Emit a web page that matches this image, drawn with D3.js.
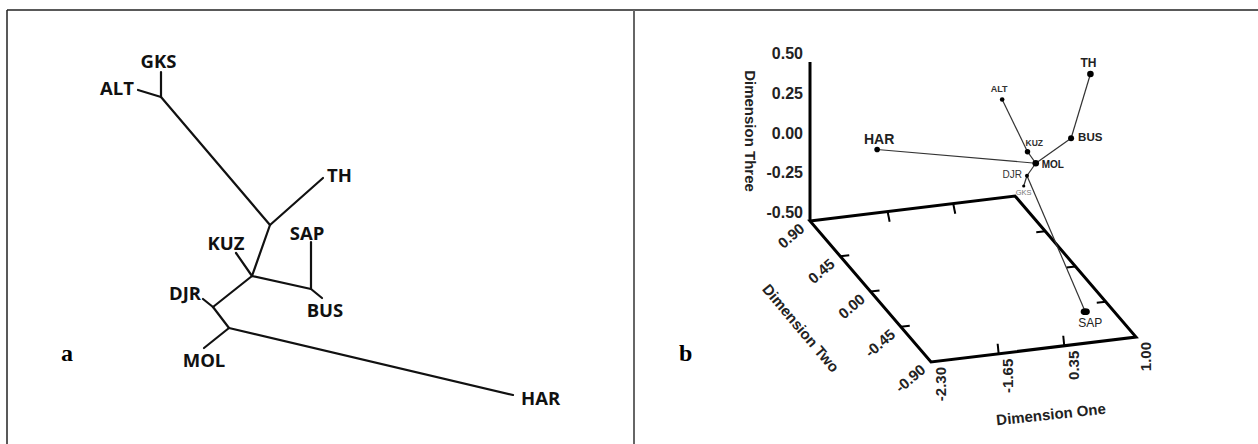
<!DOCTYPE html>
<html>
<head>
<meta charset="utf-8">
<script src="https://cdn.jsdelivr.net/npm/d3@7"></script>
<style>
body { margin: 0; background: #fff; }
</style>
</head>
<body>
<div id="chart"></div>
<script>
// ---- panel a : unrooted tree, node positions in tree units ----
let treeNodes = [
  {id: "GKS", x: 12.2, y: 4.4},
  {id: "ALT", x: 7.6,  y: 8.0},
  {id: "n1",  x: 12.2, y: 9.4},
  {id: "TH",  x: 44.6, y: 25.6},
  {id: "n2",  x: 34.0, y: 35.0},
  {id: "KUZ", x: 27.2, y: 40.6},
  {id: "n3",  x: 30.4, y: 45.2},
  {id: "SAP", x: 42.2, y: 38.4},
  {id: "n4",  x: 42.2, y: 47.8},
  {id: "BUS", x: 44.4, y: 49.6},
  {id: "DJR", x: 20.6, y: 49.8},
  {id: "n5",  x: 22.6, y: 51.4},
  {id: "n6",  x: 25.8, y: 55.6},
  {id: "MOL", x: 20.8, y: 59.6},
  {id: "HAR", x: 82.6, y: 69.0}
];
let treeEdges = [
  ["GKS","n1"], ["ALT","n1"], ["n1","n2"], ["TH","n2"], ["n2","n3"],
  ["KUZ","n3"], ["n3","n4"], ["SAP","n4"], ["BUS","n4"], ["n3","n5"],
  ["DJR","n5"], ["n5","n6"], ["MOL","n6"], ["HAR","n6"]
];

// ---- panel b : 3D MDS ----
let popNames = ["HAR", "ALT", "TH", "KUZ", "BUS", "MOL", "DJR", "GKS", "SAP"];
let dimOne   = [-2.12, 0.50, 1.19, 0.62, 0.96, 0.64, 0.67, 0.75, 0.65];
let dimTwo   = [0.18, 0.27, 0.09, 0.09, 0.00, 0.00, 0.18, 0.36, -0.72];
let dimThree = [0.29, 0.46, 0.65, 0.21, 0.31, 0.18, 0.01, -0.15, -0.40];
let mdsLinks = [["HAR","MOL"], ["ALT","KUZ"], ["KUZ","MOL"], ["TH","BUS"], ["BUS","MOL"],
                ["MOL","DJR"], ["DJR","GKS"], ["DJR","SAP"]];
let dimOneTicks = [-2.30, -1.65, 0.35, 1.00];
let dimTwoTicks = [0.90, 0.45, 0.00, -0.45, -0.90];
let dimThreeTicks = [-0.50, -0.25, 0.00, 0.25, 0.50];

let width = 1258, height = 444;

let svg = d3.select("#chart").append("svg")
    .attr("width", width)
    .attr("height", height)
    .style("display", "block");

// frame
svg.append("line").attr("x1", 7).attr("x2", width).attr("y1", 10).attr("y2", 10)
    .attr("stroke", "#222").attr("stroke-width", 1.5);
svg.append("line").attr("x1", 7).attr("x2", 7).attr("y1", 10).attr("y2", height)
    .attr("stroke", "#222").attr("stroke-width", 1.5);
svg.append("line").attr("x1", 634).attr("x2", 634).attr("y1", 10).attr("y2", height)
    .attr("stroke", "#666").attr("stroke-width", 2);

// panel letters
svg.append("text").text("a").attr("x", 61).attr("y", 361)
    .style("font-family", "'Liberation Serif', serif").style("font-weight", "bold").style("font-size", "24px");
svg.append("text").text("b").attr("x", 679).attr("y", 361)
    .style("font-family", "'Liberation Serif', serif").style("font-weight", "bold").style("font-size", "24px");

// ===== panel a =====
let treeX = d3.scaleLinear().domain([0, 100]).range([100, 600]);
let treeY = d3.scaleLinear().domain([0, 70]).range([50, 400]);
let nodeById = new Map(treeNodes.map(d => [d.id, d]));

let treeGroup = svg.append("g").attr("class", "tree");
treeGroup.selectAll("line").data(treeEdges).enter()
    .append("line")
    .attr("x1", d => treeX(nodeById.get(d[0]).x))
    .attr("y1", d => treeY(nodeById.get(d[0]).y))
    .attr("x2", d => treeX(nodeById.get(d[1]).x))
    .attr("y2", d => treeY(nodeById.get(d[1]).y))
    .attr("stroke", "#111")
    .attr("stroke-width", 2.2)
    .attr("stroke-linecap", "round");

// label placement relative to the tip
let treeLabelPos = {
  GKS: {a: "middle", dx: -2.5, dy: -4},
  ALT: {a: "end", dx: -4, dy: 5},
  TH:  {a: "start", dx: 4, dy: 4},
  KUZ: {a: "middle", dx: -10, dy: -3},
  SAP: {a: "middle", dx: -4, dy: -2},
  BUS: {a: "middle", dx: 3, dy: 19},
  DJR: {a: "end", dx: -2, dy: 1},
  MOL: {a: "middle", dx: 0, dy: 19},
  HAR: {a: "start", dx: 8, dy: 10}
};
let tips = treeNodes.filter(d => treeLabelPos[d.id]);
treeGroup.selectAll("text").data(tips).enter()
    .append("text")
    .text(d => d.id)
    .attr("x", d => treeX(d.x) + treeLabelPos[d.id].dx)
    .attr("y", d => treeY(d.y) + treeLabelPos[d.id].dy)
    .attr("text-anchor", d => treeLabelPos[d.id].a)
    .style("font-family", "'Open Sans', sans-serif")
    .style("font-weight", "bold")
    .style("font-size", "18.5px")
    .attr("fill", "#111");

// ===== panel b =====
// oblique projection of the box
let f1 = d3.scaleLinear().domain(dimOneTicks).range([0, 0.33, 0.65, 1]);
let f2 = d3.scaleLinear().domain([0.90, -0.90]).range([0, 1]);
let f3 = d3.scaleLinear().domain([-0.50, 0.50]).range([0, 1]);
let origin = [810, 221], e1 = [205, -25], e2 = [121, 141], e3 = [0, -159];

function proj(a, b, c) {
  let u = f1(a), v = f2(b), w = f3(c);
  return [origin[0] + u * e1[0] + v * e2[0] + w * e3[0],
          origin[1] + u * e1[1] + v * e2[1] + w * e3[1]];
}

let plot = svg.append("g").attr("class", "mds");
let sansFont = "'Liberation Sans', Arial, sans-serif";

// floor
let floor = [proj(-2.30, 0.90, -0.5), proj(1.00, 0.90, -0.5), proj(1.00, -0.90, -0.5), proj(-2.30, -0.90, -0.5)];
plot.append("path")
    .attr("d", d3.line()(floor) + "Z")
    .attr("fill", "none")
    .attr("stroke", "#000")
    .attr("stroke-width", 3)
    .attr("stroke-linejoin", "miter");

// vertical axis
let zBottom = proj(-2.30, 0.90, -0.5), zTop = proj(-2.30, 0.90, 0.5);
plot.append("line")
    .attr("x1", zBottom[0]).attr("y1", zBottom[1])
    .attr("x2", zTop[0]).attr("y2", zTop[1])
    .attr("stroke", "#000").attr("stroke-width", 3);

// ticks on floor edges
let innerOne = dimOneTicks.slice(1, -1);
let innerTwo = dimTwoTicks.slice(1, -1);
let tickSegs = [];
innerOne.forEach(t => {
  let p = proj(t, -0.90, -0.5); tickSegs.push([p, [p[0] - 1, p[1] - 10]]);
  let q = proj(t, 0.90, -0.5); tickSegs.push([[q[0] + 10, q[1] - 1], [q[0] + 12, q[1] + 9]]);
});
innerTwo.forEach(t => {
  let p = proj(-2.30, t, -0.5); tickSegs.push([p, [p[0] + 9, p[1] - 1]]);
  let q = proj(1.00, t, -0.5); tickSegs.push([q, [q[0] - 9, q[1] + 1]]);
});
plot.selectAll(".tick").data(tickSegs).enter()
    .append("line").attr("class", "tick")
    .attr("x1", d => d[0][0]).attr("y1", d => d[0][1])
    .attr("x2", d => d[1][0]).attr("y2", d => d[1][1])
    .attr("stroke", "#000").attr("stroke-width", 2);

// plain hyphen for negatives, as in the original
let fmt = d => d3.format(".2f")(d).replace("\u2212", "-");

// Dimension Three labels
plot.selectAll(".zlab").data(dimThreeTicks).enter()
    .append("text").attr("class", "zlab")
    .text(fmt)
    .attr("x", d => proj(-2.30, 0.90, d)[0] - 7)
    .attr("y", d => proj(-2.30, 0.90, d)[1] - 3)
    .attr("text-anchor", "end")
    .style("font-family", sansFont).style("font-weight", "bold").style("font-size", "16px")
    .attr("fill", "#222");

// Dimension Two labels
plot.selectAll(".ylab").data(dimTwoTicks).enter()
    .append("text").attr("class", "ylab")
    .text(fmt)
    .attr("transform", d => {
      let p = proj(-2.30, d, -0.5);
      return "translate(" + (p[0] - 8) + "," + (p[1] + 5) + ") rotate(-41)";
    })
    .attr("text-anchor", "end")
    .attr("dominant-baseline", "central")
    .style("font-family", sansFont).style("font-weight", "bold").style("font-size", "15px")
    .attr("fill", "#222");

// Dimension One labels
plot.selectAll(".xlab").data(dimOneTicks).enter()
    .append("text").attr("class", "xlab")
    .text(fmt)
    .attr("transform", d => {
      let p = proj(d, -0.90, -0.5);
      return "translate(" + (p[0] + 9) + "," + (p[1] + 5) + ") rotate(-90)";
    })
    .attr("text-anchor", "end")
    .attr("dominant-baseline", "central")
    .style("font-family", sansFont).style("font-weight", "bold").style("font-size", "15px")
    .attr("fill", "#222");

// axis titles
let titles = [
  {t: "Dimension Three", x: 750, y: 131, r: 90},
  {t: "Dimension Two", x: 801, y: 328, r: 50},
  {t: "Dimension One", x: 1051, y: 414, r: -6}
];
plot.selectAll(".title").data(titles).enter()
    .append("text").attr("class", "title")
    .text(d => d.t)
    .attr("transform", d => "translate(" + d.x + "," + d.y + ") rotate(" + d.r + ")")
    .attr("text-anchor", "middle")
    .attr("dominant-baseline", "central")
    .style("font-family", sansFont).style("font-weight", "bold").style("font-size", "15px")
    .attr("fill", "#222");

// points
let pts = popNames.map((n, i) => {
  let p = proj(dimOne[i], dimTwo[i], dimThree[i]);
  return {name: n, px: p[0], py: p[1]};
});
let ptByName = new Map(pts.map(d => [d.name, d]));

plot.selectAll(".link").data(mdsLinks).enter()
    .append("line").attr("class", "link")
    .attr("x1", d => ptByName.get(d[0]).px).attr("y1", d => ptByName.get(d[0]).py)
    .attr("x2", d => ptByName.get(d[1]).px).attr("y2", d => ptByName.get(d[1]).py)
    .attr("stroke", "#333").attr("stroke-width", 1.2);

// marker and label style per population
let ptStyle = {
  HAR: {r: 2.8, size: 14, w: "bold", a: "middle", dx: 2, dy: -6, c: "#222"},
  ALT: {r: 2.3, size: 9, w: "bold", a: "middle", dx: -3, dy: -7, c: "#333"},
  TH:  {r: 3.3, size: 12, w: "bold", a: "middle", dx: -2, dy: -7, c: "#222"},
  KUZ: {r: 2.7, size: 8.5, w: "bold", a: "start", dx: -2, dy: -6, c: "#333"},
  BUS: {r: 3.0, size: 11.5, w: "bold", a: "start", dx: 7, dy: 3, c: "#222"},
  MOL: {r: 3.3, size: 10, w: "bold", a: "start", dx: 6, dy: 5, c: "#222"},
  DJR: {r: 2.0, size: 10, w: "normal", a: "end", dx: -5, dy: 2, c: "#333"},
  GKS: {r: 1.6, size: 7.5, w: "normal", a: "middle", dx: 0, dy: 9, c: "#777"},
  SAP: {r: 3.4, size: 12, w: "normal", a: "middle", dx: 5, dy: 15, c: "#222"}
};

plot.selectAll(".pt").data(pts).enter()
    .append("ellipse").attr("class", "pt")
    .attr("cx", d => d.px).attr("cy", d => d.py)
    .attr("rx", d => d.name === "SAP" ? ptStyle[d.name].r * 1.35 : ptStyle[d.name].r)
    .attr("ry", d => ptStyle[d.name].r)
    .attr("fill", "#000");

plot.selectAll(".plab").data(pts).enter()
    .append("text").attr("class", "plab")
    .text(d => d.name)
    .attr("x", d => d.px + ptStyle[d.name].dx)
    .attr("y", d => d.py + ptStyle[d.name].dy)
    .attr("text-anchor", d => ptStyle[d.name].a)
    .style("font-family", sansFont)
    .style("font-weight", d => ptStyle[d.name].w)
    .style("font-size", d => ptStyle[d.name].size + "px")
    .attr("fill", d => ptStyle[d.name].c);
</script>
</body>
</html>
